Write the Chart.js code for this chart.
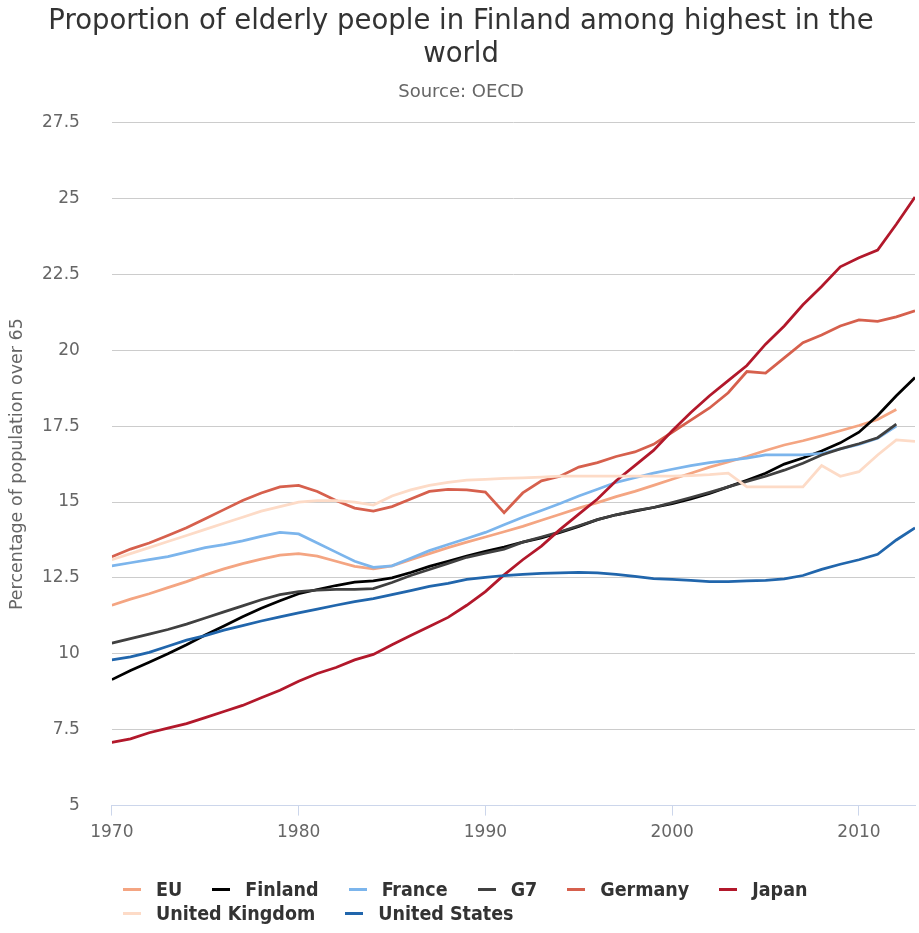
<!DOCTYPE html>
<html>
<head>
<meta charset="utf-8">
<title>Elderly population share</title>
<script src="https://cdn.jsdelivr.net/npm/chart.js@4.4.1/dist/chart.umd.min.js"></script>
<style>
  body { margin: 0; background: #fff; }
  #wrap { position: relative; width: 919px; height: 933px; }
  #legend {
    position: absolute; left: 123px; top: 878px; width: 740px;
    display: flex; flex-wrap: wrap; row-gap: 1px;
    font-family: 'DejaVu Sans Condensed', 'DejaVu Sans', sans-serif;
    font-weight: bold; font-size: 19.5px; color: #333;
  }
  .item { display: flex; align-items: center; margin-right: 30px; height: 23px; }
  .swatch { width: 18px; height: 3px; margin-right: 15px; }
</style>
</head>
<body>
<div id="wrap">
  <canvas id="chart" width="919" height="933"></canvas>
  <div id="legend"></div>
</div>
<script>
// Share of population aged 65+, OECD
const years = [1970, 1971, 1972, 1973, 1974, 1975, 1976, 1977, 1978, 1979,
  1980, 1981, 1982, 1983, 1984, 1985, 1986, 1987, 1988, 1989,
  1990, 1991, 1992, 1993, 1994, 1995, 1996, 1997, 1998, 1999,
  2000, 2001, 2002, 2003, 2004, 2005, 2006, 2007, 2008, 2009,
  2010, 2011, 2012, 2013];

const eu = [11.6, 11.8, 11.98, 12.18, 12.38, 12.6, 12.8, 12.97, 13.12, 13.25,
  13.3, 13.22, 13.05, 12.88, 12.8, 12.9, 13.1, 13.3, 13.5, 13.68,
  13.85, 14.02, 14.2, 14.4, 14.6, 14.8, 14.98, 15.18, 15.35, 15.55,
  15.75, 15.95, 16.15, 16.32, 16.5, 16.7, 16.88, 17.02, 17.18, 17.35,
  17.52, 17.72, 18.05, null];

const finland = [9.15, 9.45, 9.72, 10.0, 10.3, 10.62, 10.92, 11.22, 11.5, 11.75,
  11.98, 12.12, 12.25, 12.36, 12.4, 12.5, 12.68, 12.88, 13.05, 13.22,
  13.38, 13.52, 13.68, 13.82, 14.0, 14.2, 14.42, 14.58, 14.7, 14.82,
  14.95, 15.1, 15.28, 15.5, 15.72, 15.95, 16.25, 16.45, 16.68, 16.95,
  17.3, 17.85, 18.5, 19.1];

const france = [12.9, 13.0, 13.1, 13.2, 13.35, 13.5, 13.6, 13.72, 13.87, 14.0,
  13.95, 13.65, 13.35, 13.05, 12.85, 12.9, 13.15, 13.4, 13.6, 13.8,
  14.0, 14.25, 14.5, 14.72, 14.95, 15.2, 15.42, 15.65, 15.8, 15.95,
  16.08, 16.2, 16.3, 16.37, 16.45, 16.55, 16.55, 16.55, 16.6, 16.75,
  16.9, 17.1, 17.5, null];

const g7 = [10.35, 10.5, 10.65, 10.8, 10.98, 11.18, 11.38, 11.58, 11.78, 11.95,
  12.05, 12.1, 12.12, 12.12, 12.15, 12.35, 12.58, 12.78, 12.98, 13.18,
  13.32, 13.45, 13.68, 13.85, 14.02, 14.22, 14.42, 14.58, 14.72, 14.82,
  14.98, 15.15, 15.32, 15.5, 15.68, 15.85, 16.05, 16.28, 16.55, 16.75,
  16.92, 17.12, 17.57, null];

const germany = [13.2, 13.45, 13.65, 13.9, 14.15, 14.45, 14.75, 15.05, 15.3, 15.5,
  15.55, 15.35, 15.05, 14.8, 14.7, 14.85, 15.1, 15.35, 15.42, 15.4,
  15.33, 14.65, 15.3, 15.7, 15.85, 16.15, 16.3, 16.5, 16.65, 16.9,
  17.3, 17.7, 18.1, 18.6, 19.3, 19.25, 19.75, 20.25, 20.5, 20.8,
  21.0, 20.95, 21.1, 21.3];

const japan = [7.08, 7.2, 7.4, 7.55, 7.7, 7.9, 8.1, 8.3, 8.55, 8.8,
  9.1, 9.35, 9.55, 9.8, 9.98, 10.3, 10.6, 10.9, 11.2, 11.6,
  12.05, 12.6, 13.1, 13.55, 14.1, 14.6, 15.1, 15.7, 16.2, 16.7,
  17.35, 17.95, 18.5, 19.0, 19.5, 20.2, 20.8, 21.5, 22.1, 22.75,
  23.05, 23.3, 24.15, 25.05];

const uk = [13.1, 13.3, 13.5, 13.7, 13.9, 14.1, 14.3, 14.5, 14.7, 14.85,
  15.0, 15.05, 15.05, 15.0, 14.9, 15.2, 15.4, 15.55, 15.65, 15.72,
  15.75, 15.78, 15.8, 15.82, 15.85, 15.85, 15.85, 15.85, 15.85, 15.85,
  15.85, 15.87, 15.9, 15.95, 15.5, 15.5, 15.5, 15.5, 16.2, 15.85,
  16.0, 16.55, 17.05, 17.0];

const us = [9.8, 9.9, 10.05, 10.25, 10.45, 10.6, 10.78, 10.93, 11.08, 11.22,
  11.35, 11.47, 11.6, 11.72, 11.82, 11.95, 12.08, 12.22, 12.32, 12.45,
  12.52, 12.58, 12.62, 12.65, 12.67, 12.68, 12.67, 12.62, 12.55, 12.48,
  12.45, 12.42, 12.38, 12.38, 12.4, 12.42, 12.47, 12.58, 12.78, 12.95,
  13.1, 13.28, 13.75, 14.15];

const seriesNames = ['EU', 'Finland', 'France', 'G7', 'Germany', 'Japan', 'United Kingdom', 'United States'];
const seriesValues = [eu, finland, france, g7, germany, japan, uk, us];
const seriesColors = ['#f4a582', '#000000', '#7cb5ec', '#404040', '#d6604d', '#b2182b', '#fddbc7', '#2166ac'];

const yTicks = [5, 7.5, 10, 12.5, 15, 17.5, 20, 22.5, 25, 27.5];
const xTicks = [1970, 1980, 1990, 2000, 2010];

const baseFont = "'DejaVu Sans', sans-serif";

const datasets = seriesNames.map((name, i) => ({
  label: name,
  data: years.map((yr, j) => ({ x: yr, y: seriesValues[i][j] })),
  borderColor: seriesColors[i],
  backgroundColor: seriesColors[i],
  borderWidth: 2.75,
  pointRadius: 0,
  tension: 0,
  // later series sit on top
  order: seriesNames.length - i
}));

const chart = new Chart(document.getElementById('chart'), {
  type: 'line',
  data: { datasets },
  options: {
    responsive: false,
    animation: false,
    layout: { padding: { left: 7, right: 4, bottom: 83, top: 0 } },
    plugins: {
      legend: { display: false },
      tooltip: { enabled: false },
      title: {
        display: true,
        text: ['Proportion of elderly people in Finland among highest in the', 'world'],
        color: '#333333',
        font: { family: baseFont, size: 27.5, weight: 'normal', lineHeight: 1.2 },
        padding: { top: 5, bottom: 11 }
      },
      subtitle: {
        display: true,
        text: 'Source: OECD',
        color: '#666666',
        font: { family: baseFont, size: 18, weight: 'normal' },
        padding: { top: 0, bottom: 19 }
      }
    },
    scales: {
      x: {
        type: 'linear',
        min: years[0],
        max: years[years.length - 1],
        afterBuildTicks: (axis) => { axis.ticks = xTicks.map(v => ({ value: v })); },
        ticks: {
          color: '#666666',
          font: { family: baseFont, size: 17 },
          padding: 7,
          maxRotation: 0,
          callback: (v) => String(v)
        },
        grid: { drawOnChartArea: false, drawTicks: true, tickLength: 10, color: '#ccd6eb' },
        border: { color: '#ccd6eb', width: 1 }
      },
      y: {
        min: yTicks[0],
        max: yTicks[yTicks.length - 1],
        afterBuildTicks: (axis) => { axis.ticks = yTicks.map(v => ({ value: v })); },
        ticks: {
          color: '#666666',
          font: { family: baseFont, size: 17 },
          padding: 14
        },
        // invisible tick marks keep a gap between labels and plot
        grid: { color: '#cccccc', drawTicks: true, tickLength: 18, tickColor: 'rgba(0,0,0,0)' },
        border: { display: false },
        title: {
          display: true,
          text: 'Percentage of population over 65',
          color: '#666666',
          font: { family: baseFont, size: 17.5 },
          padding: { top: 0, bottom: 0 }
        }
      }
    }
  }
});

// HTML legend, rows left-aligned like the series list
const legendEl = document.getElementById('legend');
chart.data.datasets.forEach(ds => {
  const item = document.createElement('div');
  item.className = 'item';
  item.innerHTML = `<span class="swatch" style="background:${ds.borderColor}"></span><span>${ds.label}</span>`;
  legendEl.appendChild(item);
});
</script>
</body>
</html>
